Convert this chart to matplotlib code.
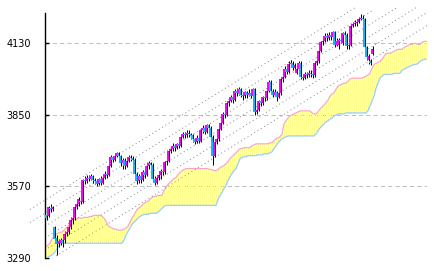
import numpy as np
import matplotlib
matplotlib.use("Agg")
import matplotlib.pyplot as plt

# daily candles (open / high / low / close)
opens = [3460, 3455, 3485, 3480, 3410, 3370, 3345, 3350, 3360, 3360,
         3385, 3390, 3410, 3440, 3445, 3490, 3500, 3515, 3510, 3595,
         3590, 3605, 3600, 3610, 3595, 3590, 3580, 3600, 3585, 3605,
         3620, 3615, 3650, 3685, 3675, 3690, 3700, 3690, 3660, 3675,
         3650, 3670, 3685, 3680, 3675, 3620, 3590, 3610, 3595, 3625,
         3615, 3650, 3660, 3655, 3600, 3585, 3605, 3615, 3630, 3625,
         3665, 3670, 3710, 3715, 3730, 3720, 3735, 3730, 3765, 3775,
         3770, 3780, 3775, 3770, 3755, 3745, 3760, 3750, 3790, 3800,
         3785, 3810, 3800, 3765, 3690, 3745, 3755, 3795, 3820, 3855,
         3850, 3895, 3905, 3920, 3910, 3945, 3935, 3950, 3930, 3925,
         3940, 3930, 3935, 3925, 3950, 3860, 3870, 3905, 3895, 3920,
         3915, 3945, 3980, 3945, 3930, 3940, 3920, 3935, 3990, 4000,
         4030, 4020, 4050, 4055, 4035, 4015, 4030, 4055, 4000, 3995,
         4010, 4005, 4015, 4010, 4005, 4055, 4060, 4100, 4135, 4140,
         4160, 4150, 4165, 4155, 4175, 4125, 4125, 4145, 4130, 4170,
         4165, 4120, 4125, 4200, 4205, 4210, 4215, 4225, 4230, 4225,
         4115, 4065, 4060, 4090]
closes = [3445, 3490, 3480, 3490, 3365, 3345, 3355, 3360, 3350, 3385,
          3390, 3410, 3440, 3445, 3490, 3500, 3520, 3510, 3595, 3590,
          3605, 3600, 3610, 3595, 3590, 3580, 3600, 3585, 3605, 3620,
          3615, 3650, 3685, 3675, 3690, 3700, 3690, 3660, 3675, 3650,
          3670, 3685, 3680, 3675, 3620, 3590, 3610, 3595, 3625, 3615,
          3650, 3660, 3655, 3600, 3585, 3605, 3615, 3630, 3625, 3665,
          3670, 3710, 3715, 3730, 3720, 3735, 3730, 3765, 3775, 3770,
          3780, 3775, 3770, 3755, 3745, 3760, 3750, 3790, 3800, 3785,
          3810, 3800, 3765, 3690, 3745, 3755, 3795, 3820, 3855, 3850,
          3895, 3905, 3920, 3910, 3945, 3935, 3950, 3930, 3925, 3940,
          3930, 3935, 3925, 3950, 3860, 3870, 3905, 3895, 3920, 3915,
          3945, 3980, 3945, 3930, 3940, 3920, 3935, 3990, 4000, 4030,
          4020, 4050, 4055, 4035, 4045, 4030, 4055, 4000, 3995, 4010,
          4005, 4015, 4010, 4005, 4055, 4060, 4100, 4135, 4140, 4160,
          4150, 4165, 4155, 4175, 4125, 4140, 4145, 4140, 4170, 4165,
          4120, 4125, 4200, 4205, 4210, 4215, 4225, 4230, 4225, 4115,
          4075, 4080, 4055, 4110]
highs = [3470, 3495, 3500, 3495, 3415, 3380, 3365, 3370, 3365, 3395,
         3400, 3420, 3450, 3460, 3495, 3510, 3530, 3525, 3600, 3610,
         3615, 3615, 3620, 3615, 3605, 3600, 3605, 3610, 3610, 3630,
         3630, 3655, 3695, 3690, 3700, 3705, 3705, 3695, 3680, 3680,
         3680, 3695, 3695, 3690, 3680, 3625, 3620, 3620, 3635, 3640,
         3660, 3670, 3665, 3660, 3610, 3610, 3625, 3640, 3645, 3670,
         3680, 3715, 3725, 3740, 3735, 3740, 3745, 3770, 3785, 3785,
         3790, 3790, 3780, 3775, 3760, 3770, 3765, 3795, 3810, 3805,
         3815, 3815, 3805, 3770, 3750, 3765, 3800, 3825, 3860, 3865,
         3900, 3915, 3930, 3925, 3950, 3955, 3960, 3955, 3940, 3945,
         3945, 3950, 3940, 3955, 3955, 3880, 3910, 3915, 3925, 3930,
         3950, 3985, 3985, 3950, 3950, 3945, 3945, 3995, 4010, 4040,
         4040, 4060, 4065, 4060, 4055, 4040, 4060, 4060, 4010, 4020,
         4020, 4025, 4025, 4015, 4060, 4070, 4110, 4140, 4150, 4170,
         4170, 4175, 4170, 4180, 4180, 4150, 4150, 4155, 4175, 4180,
         4170, 4135, 4205, 4215, 4220, 4225, 4235, 4245, 4240, 4230,
         4120, 4090, 4070, 4120]
lows = [3440, 3450, 3470, 3475, 3355, 3300, 3335, 3340, 3335, 3350,
        3375, 3385, 3405, 3425, 3440, 3480, 3495, 3500, 3505, 3580,
        3585, 3590, 3595, 3585, 3580, 3570, 3575, 3575, 3580, 3600,
        3605, 3610, 3645, 3665, 3670, 3685, 3680, 3650, 3640, 3640,
        3645, 3665, 3670, 3665, 3610, 3580, 3585, 3585, 3590, 3605,
        3610, 3640, 3630, 3590, 3575, 3580, 3595, 3600, 3615, 3620,
        3655, 3665, 3700, 3710, 3710, 3715, 3720, 3725, 3760, 3760,
        3765, 3765, 3755, 3745, 3735, 3740, 3740, 3745, 3780, 3775,
        3780, 3790, 3755, 3655, 3685, 3735, 3750, 3790, 3815, 3840,
        3845, 3885, 3900, 3895, 3905, 3925, 3930, 3920, 3910, 3915,
        3915, 3925, 3915, 3920, 3850, 3855, 3865, 3885, 3890, 3905,
        3910, 3940, 3935, 3920, 3925, 3905, 3915, 3930, 3980, 3995,
        4010, 4015, 4040, 4025, 4030, 4010, 4025, 3990, 3985, 3990,
        3995, 4000, 4000, 3995, 4000, 4045, 4055, 4095, 4125, 4135,
        4140, 4145, 4145, 4150, 4115, 4120, 4110, 4130, 4125, 4155,
        4110, 4110, 4120, 4195, 4200, 4200, 4210, 4220, 4215, 4105,
        4065, 4050, 4045, 4085]

# leading spans of the cloud (26 periods ahead of the last candle)
span_a = [3333, 3341, 3348, 3364, 3376, 3383, 3387, 3391, 3391, 3399,
          3407, 3414, 3426, 3438, 3442, 3442, 3446, 3446, 3446, 3449,
          3449, 3449, 3453, 3453, 3457, 3457, 3457, 3457, 3453, 3446,
          3434, 3418, 3411, 3407, 3403, 3403, 3399, 3399, 3399, 3403,
          3407, 3414, 3430, 3446, 3457, 3473, 3484, 3488, 3496, 3504,
          3508, 3512, 3519, 3527, 3531, 3531, 3535, 3535, 3535, 3554,
          3566, 3578, 3586, 3593, 3601, 3605, 3617, 3624, 3632, 3636,
          3640, 3640, 3640, 3640, 3640, 3640, 3640, 3640, 3640, 3640,
          3640, 3640, 3636, 3636, 3632, 3632, 3636, 3644, 3648, 3652,
          3659, 3667, 3679, 3687, 3694, 3702, 3710, 3718, 3718, 3722,
          3722, 3722, 3722, 3729, 3733, 3737, 3737, 3737, 3737, 3737,
          3737, 3737, 3741, 3741, 3749, 3757, 3761, 3764, 3776, 3815,
          3827, 3838, 3846, 3850, 3854, 3858, 3862, 3866, 3866, 3866,
          3866, 3866, 3866, 3858, 3854, 3854, 3862, 3873, 3881, 3889,
          3897, 3908, 3924, 3932, 3936, 3951, 3963, 3967, 3971, 3974,
          3974, 3982, 3990, 3994, 3994, 3994, 3994, 3994, 3994, 3998,
          4002, 4006, 4013, 4033, 4048, 4052, 4056, 4060, 4068, 4079,
          4091, 4091, 4091, 4095, 4099, 4103, 4107, 4107, 4107, 4114,
          4118, 4122, 4126, 4126, 4130, 4130, 4126, 4126, 4134, 4138,
          4138]
span_b = [3290, 3294, 3298, 3302, 3309, 3321, 3333, 3341, 3348, 3348,
          3348, 3348, 3348, 3348, 3348, 3348, 3348, 3348, 3348, 3348,
          3348, 3348, 3348, 3348, 3348, 3348, 3348, 3348, 3348, 3348,
          3348, 3348, 3348, 3348, 3348, 3348, 3348, 3348, 3348, 3360,
          3379, 3395, 3407, 3422, 3430, 3438, 3446, 3453, 3457, 3461,
          3461, 3461, 3465, 3465, 3465, 3465, 3469, 3477, 3484, 3492,
          3496, 3496, 3496, 3496, 3496, 3496, 3496, 3496, 3496, 3496,
          3496, 3496, 3496, 3496, 3496, 3496, 3496, 3496, 3496, 3496,
          3496, 3496, 3496, 3496, 3496, 3496, 3519, 3535, 3547, 3562,
          3574, 3593, 3609, 3621, 3632, 3640, 3659, 3679, 3683, 3687,
          3687, 3691, 3691, 3691, 3691, 3691, 3694, 3694, 3694, 3698,
          3698, 3698, 3702, 3706, 3718, 3729, 3741, 3749, 3757, 3761,
          3764, 3768, 3768, 3768, 3768, 3768, 3768, 3768, 3768, 3768,
          3768, 3768, 3768, 3768, 3768, 3776, 3788, 3799, 3807, 3815,
          3823, 3827, 3834, 3838, 3846, 3850, 3854, 3854, 3854, 3854,
          3858, 3858, 3858, 3858, 3858, 3858, 3858, 3858, 3858, 3858,
          3858, 3866, 3885, 3904, 3924, 3955, 3974, 3994, 4002, 4009,
          4009, 4009, 4009, 4009, 4013, 4013, 4013, 4013, 4025, 4029,
          4033, 4037, 4041, 4044, 4048, 4048, 4052, 4060, 4064, 4068,
          4068]

# parallel trend channel lines: start/end period and price
trend_x0 = [-8, -8, -0.5, -0.5, 1, 5]
trend_p0 = [3480, 3429, 3414, 3368, 3329, 3298]
trend_x1 = [155, 163, 175, 185, 190.5, 190.5]
trend_p1 = [4272, 4257, 4268, 4270, 4251, 4200]

yticks = [3290, 3570, 3850, 4130]

opens = np.array(opens)
closes = np.array(closes)
span_a = np.array(span_a)
span_b = np.array(span_b)
n = len(closes)
xi = np.arange(n)
xc = np.arange(len(span_a))

fig = plt.figure(figsize=(4.34, 2.71), dpi=100)
ax = fig.add_axes([45 / 434, 13 / 271, 382 / 434, 244.7 / 271])

# cloud, striped: one pixel yellow, one pixel white
ax.bar(xc + 0.25, span_a - span_b, bottom=span_b, width=0.5,
       color="#ffff8c", linewidth=0, zorder=1)
ax.plot(xc, span_a, color="#ffa3cc", lw=0.9, zorder=2)
ax.plot(xc, span_b, color="#9fcfff", lw=1.0, zorder=2)

for a, b, c, d in zip(trend_x0, trend_p0, trend_x1, trend_p1):
    ax.plot([a, c], [b, d], color="#858585", lw=0.7,
            linestyle=(0, (1, 3)), clip_on=False, zorder=2)

# candles
ax.vlines(xi + 0.25, lows, highs, color="black", lw=0.7, zorder=3)
up = closes >= opens
cols = np.where(up, "#ff00ff", "#00c0f8")
ax.bar(xi, np.abs(closes - opens), bottom=np.minimum(opens, closes),
       width=1.0, color=cols, linewidth=0, zorder=4)

ax.set_xlim(-0.5, 190.5)
ax.set_ylim(3290, 4248)
ax.set_yticks(yticks)
ax.set_yticklabels([str(t) for t in yticks])
ax.set_xticks([])
ax.yaxis.grid(True, color="#c0c0c0", linestyle=(0, (4, 3)), lw=0.75)
ax.set_axisbelow(True)
for s in ["top", "right", "bottom"]:
    ax.spines[s].set_visible(False)
ax.spines["left"].set_linewidth(1.0)
ax.tick_params(axis="y", direction="in", length=3, width=1, pad=10,
               labelsize=7, colors="black")

fig.savefig("out.png", dpi=100)
